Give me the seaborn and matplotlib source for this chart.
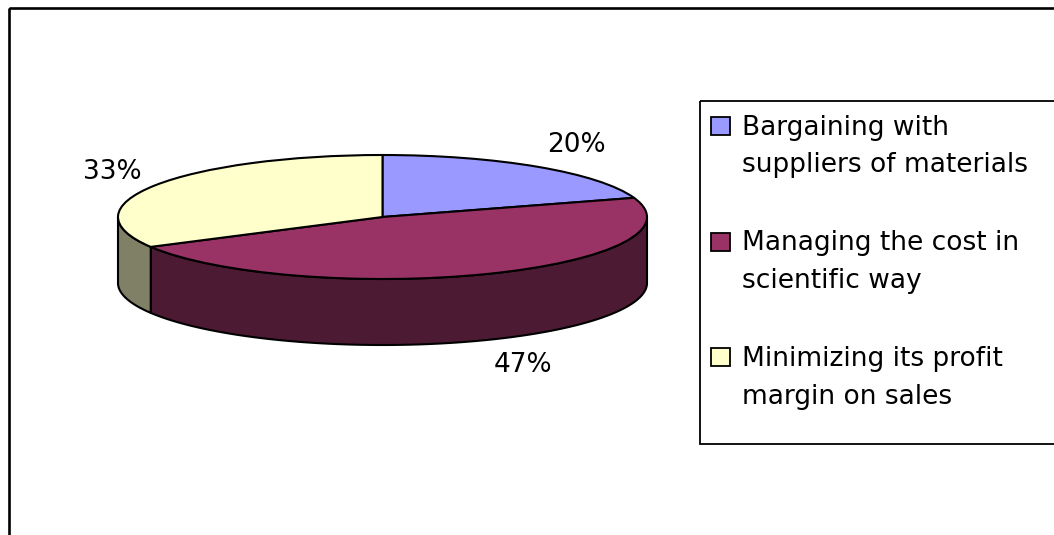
import numpy as np
import matplotlib
matplotlib.use("Agg")
import matplotlib.pyplot as plt
from matplotlib.colors import to_rgb
from matplotlib.patches import Rectangle
import seaborn as sns

# Survey shares for the three cost-control approaches
categories = [
    "Bargaining with\nsuppliers of materials",
    "Managing the cost in\nscientific way",
    "Minimizing its profit\nmargin on sales",
]
shares = [20, 47, 33]
pct_labels = ["20%", "47%", "33%"]
top_colors = ["#9999FF", "#993366", "#FFFFCC"]

sns.set_theme(style="white")
plt.rcParams["font.family"] = ["DejaVu Sans"]

W, H, DPI = 1054, 535, 100
fig = plt.figure(figsize=(W / DPI, H / DPI), dpi=DPI)
fig.patch.set_facecolor("white")

# Pie placement (pixels): centre, horizontal/vertical semi-axes, wall depth
cx, cy = 382.5, 217.0
rx, ry = 264.5, 62.0
depth = 66.0 / ry  # wall height in y data units

xlo, xhi = -1.3, 1.3
ylo, yhi = -2.7, 1.7
top_px = cy - yhi * ry
bot_px = cy - ylo * ry
ax = fig.add_axes([(cx + xlo * rx) / W, 1 - bot_px / H,
                   (xhi - xlo) * rx / W, (bot_px - top_px) / H])
ax.set_facecolor("none")

palette = sns.color_palette(top_colors)
side_colors = [tuple(0.5 * np.array(to_rgb(c))) for c in palette]

fracs = np.asarray(shares, dtype=float) / np.sum(shares)
bounds = 90.0 - 360.0 * np.concatenate([[0.0], np.cumsum(fracs)])

EDGE_LW = 1.5

# Front walls of the disc (only the lower half is visible)
for i in range(len(shares)):
    lo, hi = bounds[i + 1], bounds[i]
    for k in (-2, -1, 0, 1):
        a, b = max(lo, -180 + 360 * k), min(hi, 360 * k)
        if b <= a:
            continue
        t = np.radians(np.linspace(a, b, 240))
        xs = np.concatenate([np.cos(t), np.cos(t)[::-1]])
        ys = np.concatenate([np.sin(t), np.sin(t)[::-1] - depth])
        ax.fill(xs, ys, facecolor=side_colors[i], edgecolor="black",
                linewidth=EDGE_LW, joinstyle="round")

# Top face
ax.pie(shares, colors=palette, startangle=90, counterclock=False, radius=1,
       wedgeprops=dict(edgecolor="black", linewidth=EDGE_LW, joinstyle="round"))
ax.set_xlim(xlo, xhi)
ax.set_ylim(ylo, yhi)
ax.set_aspect("auto")
ax.axis("off")

FS = 19

# Percentage labels outside each slice
for i, lab in enumerate(pct_labels):
    mid = np.radians(0.5 * (bounds[i] + bounds[i + 1]))
    c, s = np.cos(mid), np.sin(mid)
    y = 1.44 * s - (depth if s < 0 else 0.0)
    ax.text(1.06 * c, y, lab, ha="left" if c > 0 else "right", va="center",
            fontsize=FS, color="black")

# Chart frame and legend, laid out in pixel units
ov = fig.add_axes([0, 0, 1, 1], facecolor="none")
ov.set_xlim(0, W)
ov.set_ylim(H, 0)
ov.axis("off")
ov.add_patch(Rectangle((9, 8), W + 40, H + 40, fill=False,
                       edgecolor="black", linewidth=1.9))
ov.add_patch(Rectangle((700, 101), 420, 343, fill=False,
                       edgecolor="black", linewidth=1.3))
for i, (cat, col) in enumerate(zip(categories, palette)):
    base = 135 + 115.5 * i
    ov.add_patch(Rectangle((711, base - 18), 19, 18, facecolor=col,
                           edgecolor="black", linewidth=1.3))
    for j, line in enumerate(cat.split("\n")):
        ov.text(742, base + 37.5 * j, line, fontsize=FS, va="baseline",
                ha="left", color="black")

fig.savefig("out.png", dpi=DPI)
